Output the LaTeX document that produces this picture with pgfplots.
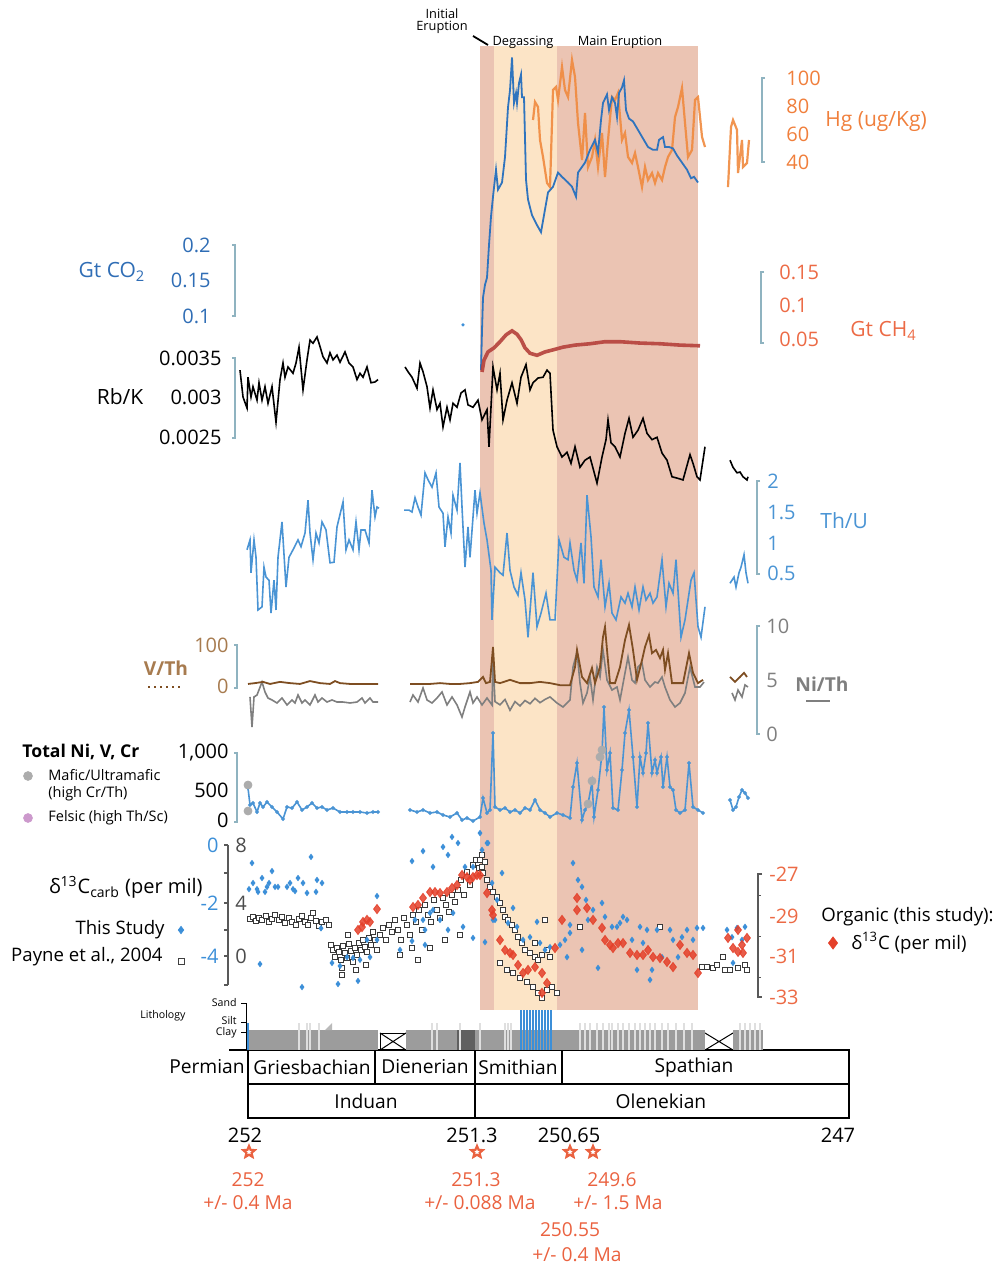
\documentclass[border=0pt]{standalone}
\usepackage{pgfplots}
\pgfplotsset{compat=1.18}
\usepackage{fontspec}
\setmainfont{Open Sans}
\usetikzlibrary{shapes.geometric}
\definecolor{pinkband}{HTML}{EBC4B3}
\definecolor{peach}{HTML}{FCE4C6}
\definecolor{hgc}{HTML}{F08A3E}
\definecolor{co2c}{HTML}{2F74BE}
\definecolor{ch4c}{HTML}{B5413B}
\definecolor{thuc}{HTML}{4A94D4}
\definecolor{vthc}{HTML}{7E4E22}
\definecolor{nithc}{HTML}{7F7F7F}
\definecolor{brk}{HTML}{8FB3C0}
\definecolor{ager}{HTML}{EA6240}
\definecolor{lblblue}{HTML}{2F6DB5}
\definecolor{lblorg}{HTML}{F07F3C}
\definecolor{ch4lbl}{HTML}{EC6A45}
\definecolor{vthlbl}{HTML}{A77B4F}
\definecolor{lithg}{HTML}{9C9C9C}
\definecolor{diam}{HTML}{3C8FD8}
\definecolor{orgred}{HTML}{E4402A}
\newcommand{\fA}{\fontsize{9.6}{10.6}\selectfont}
\newcommand{\fE}{\fontsize{9.3}{10.3}\selectfont}
\newcommand{\fL}{\fontsize{10.5}{11.5}\selectfont}
\newcommand{\fT}{\fontsize{10}{11}\selectfont}
\newcommand{\fR}{\fontsize{9.6}{10.6}\selectfont}
\newcommand{\fB}{\fontsize{7.25}{8.3}\selectfont}
\newcommand{\fC}{\fontsize{6.4}{7}\selectfont}
\newcommand{\fD}{\fontsize{5.3}{6}\selectfont}
\tikzset{every node/.append style={inner sep=0pt}}
\pgfdeclareplotmark{ostar}{\node[star,star points=5,star point ratio=2.2,draw=ager,fill=white,line width=1.1pt,minimum size=6pt,inner sep=0pt]{};}
\pgfplotsset{panel/.style={scale only axis, width=501.5pt, xmin=0, xmax=1003, axis lines=none, clip=false, anchor=south west}}
\begin{document}
\begin{tikzpicture}
\useasboundingbox (0,0) rectangle (501.5pt,634.5pt);
% ---------------- layout axis (pixel grid) ----------------
\begin{axis}[at={(0,0)}, anchor=south west, scale only axis, width=501.5pt, height=634.5pt,
  xmin=0, xmax=1003, ymin=0, ymax=1269, y dir=reverse, axis lines=none, clip=false]
\fill[pinkband] (480,46) rectangle (698,1010);
\fill[peach] (494,46) rectangle (557,1010);
% phase labels
\node[font=\fC, align=center] at (442,21) {Initial\\[-1pt]Eruption};
\draw[line width=0.9pt] (473,36) -- (488,45);
\node[font=\fC] at (523,42) {Degassing};
\node[font=\fC] at (620,42) {Main Eruption};
% Hg scale
\draw[brk, line width=0.6pt] (765,78) -- (762,78) -- (762,162) -- (765,162);
\node[font=\fT, lblorg, anchor=west] at (786,78) {100};
\node[font=\fT, lblorg, anchor=west] at (786,106) {80};
\node[font=\fT, lblorg, anchor=west] at (786,134) {60};
\node[font=\fT, lblorg, anchor=west] at (786,162) {40};
\node[font=\fL, lblorg, anchor=west] at (825,122) {Hg (ug/Kg)};
% CO2 scale
\draw[brk, line width=0.6pt] (232,245) -- (235,245) -- (235,316) -- (232,316);
\node[font=\fT, lblblue, anchor=east] at (211,245) {0.2};
\node[font=\fT, lblblue, anchor=east] at (211,280) {0.15};
\node[font=\fT, lblblue, anchor=east] at (211,316) {0.1};
\node[font=\fL, lblblue] at (112,272) {Gt CO\textsubscript{2}};
% CH4 scale
\draw[brk, line width=0.6pt] (764,272) -- (761,272) -- (761,343) -- (764,343);
\node[font=\fT, ch4lbl, anchor=west] at (779,272) {0.15};
\node[font=\fT, ch4lbl, anchor=west] at (779,305) {0.1};
\node[font=\fT, ch4lbl, anchor=west] at (779,339) {0.05};
\node[font=\fL, ch4lbl, anchor=west] at (850,331) {Gt CH\textsubscript{4}};
% Rb/K scale
\draw[brk, line width=0.6pt] (232,358) -- (235,358) -- (235,438) -- (232,438);
\node[font=\fT, anchor=east] at (222,358) {0.0035};
\node[font=\fT, anchor=east] at (222,397) {0.003};
\node[font=\fT, anchor=east] at (222,437) {0.0025};
\node[font=\fL] at (120,397) {Rb/K};
% Th/U scale
\draw[brk, line width=0.6pt] (760,481) -- (757,481) -- (757,574) -- (760,574);
\node[font=\fT, thuc, anchor=west] at (767,481) {2};
\node[font=\fT, thuc, anchor=west] at (767,512) {1.5};
\node[font=\fT, thuc, anchor=west] at (767,543) {1};
\node[font=\fT, thuc, anchor=west] at (767,573) {0.5};
\node[font=\fL, thuc, anchor=west] at (820,521) {Th/U};
% V/Th scale
\draw[brk, line width=0.6pt] (234,645) -- (237,645) -- (237,688) -- (234,688);
\node[font=\fT, vthlbl, anchor=east] at (229,645) {100};
\node[font=\fT, vthlbl, anchor=east] at (229,686) {0};
\node[font=\fA\bfseries, vthlbl] at (166,668) {V/Th};
\draw[vthc, dotted, line width=1pt] (148,687) -- (182,687);
% Ni/Th scale
\draw[brk, line width=0.6pt] (760,626) -- (757,626) -- (757,734) -- (760,734);
\node[font=\fT, nithc, anchor=west] at (766,626) {10};
\node[font=\fT, nithc, anchor=west] at (766,680) {5};
\node[font=\fT, nithc, anchor=west] at (766,734) {0};
\node[font=\fA\bfseries, nithc, anchor=west] at (795,684) {Ni/Th};
\addplot[nithc, line width=1.3pt] coordinates {(806,701) (830,701)};
% Total Ni V Cr
\draw[brk, line width=0.6pt] (234,753) -- (237,753) -- (237,822) -- (234,822);
\node[font=\fT, anchor=east] at (229,753) {1,000};
\node[font=\fT, anchor=east] at (229,790) {500};
\node[font=\fT, anchor=east] at (229,820) {0};
\node[font=\fontsize{8.8}{9.8}\selectfont\bfseries, anchor=west] at (22,752) {Total Ni, V, Cr};
\addplot[only marks, mark=*, mark size=2.2pt, color=gray!65] coordinates {(28,776)};
\node[font=\fB, anchor=west, align=left] at (48,785) {Mafic/Ultramafic\\(high Cr/Th)};
\addplot[only marks, mark=*, mark size=2.2pt, color=violet!40] coordinates {(28,818)};
\node[font=\fB, anchor=west] at (48,818) {Felsic (high Th/Sc)};
% d13C carb axis
\draw[gray!70!black, line width=0.7pt] (228,845) -- (228,985);
\draw[gray!70!black, line width=0.6pt] (224,845) -- (228,845) (224,873) -- (228,873) (224,903) -- (228,903) (224,930) -- (228,930) (224,956) -- (228,956) (224,985) -- (228,985);
\node[font=\fT, diam, anchor=east] at (219,845) {0};
\node[font=\fT, diam, anchor=east] at (219,903) {-2};
\node[font=\fT, diam, anchor=east] at (219,956) {-4};
\node[font=\fT, gray!60!black, anchor=west] at (235,845) {8};
\node[font=\fT, gray!60!black, anchor=west] at (235,903) {4};
\node[font=\fT, gray!60!black, anchor=west] at (235,956) {0};
\node[font=\fT, anchor=east] at (203,887) {δ\textsuperscript{13}C\textsubscript{carb} (per mil)};
\node[font=\fE, anchor=east] at (165,930) {This Study};
\addplot[only marks, mark=diamond*, mark size=1.8pt, color=diam] coordinates {(181,930)};
\node[font=\fE, anchor=east] at (163,957) {Payne et al., 2004};
\addplot[only marks, mark=square, mark size=1.5pt, color=gray!50!black] coordinates {(181,961)};
% organic scale
\draw[gray!70!black, line width=0.6pt] (762,874) -- (758,874) -- (758,997) -- (762,997);
\draw[gray!70!black, line width=0.5pt] (758,895) -- (761,895) (758,936) -- (761,936) (758,977) -- (761,977);
\node[font=\fT, ch4lbl] at (784,874) {-27};
\node[font=\fT, ch4lbl] at (784,916) {-29};
\node[font=\fT, ch4lbl] at (784,956) {-31};
\node[font=\fT, ch4lbl] at (784,997) {-33};
\node[font=\fE, anchor=west] at (821,917) {Organic (this study):};
\addplot[only marks, mark=diamond*, mark size=3pt, color=orgred] coordinates {(833,943)};
\node[font=\fE, anchor=west] at (851,943) {δ\textsuperscript{13}C (per mil)};
% lithology labels & axis
\node[font=\fD] at (163,1016) {Lithology};
\draw[black, line width=0.5pt] (246,1003) -- (246,1050);
\draw[line width=0.5pt] (241,1003) -- (246,1003) (241,1022) -- (246,1022) (241,1032) -- (246,1032);
\node[font=\fD, anchor=east] at (237,1003) {Sand};
\node[font=\fD, anchor=east] at (237,1021) {Silt};
\node[font=\fD, anchor=east] at (237,1033) {Clay};
\draw[line width=0.5pt] (380,1033) rectangle (406,1050); \draw[line width=0.5pt] (380,1033) -- (406,1050) (380,1050) -- (406,1033);
\draw[line width=0.5pt] (705,1033) -- (733,1050) (705,1050) -- (733,1033);
% stage table
\draw[line width=0.9pt] (229,1050) -- (850,1050);
\draw[line width=0.7pt] (248,1050) -- (248,1118) -- (849,1118) -- (849,1050);
\draw[line width=0.7pt] (248,1084) -- (849,1084);
\draw[line width=0.7pt] (375,1050) -- (375,1084) (475,1050) -- (475,1118) (562,1050) -- (562,1084);
\node[font=\fA] at (207,1067) {Permian};
\node[font=\fA] at (312,1067) {Griesbachian};
\node[font=\fA] at (425,1067) {Dienerian};
\node[font=\fA] at (518,1067) {Smithian};
\node[font=\fA] at (694,1067) {Spathian};
\node[font=\fA] at (366,1101) {Induan};
\node[font=\fA] at (661,1101) {Olenekian};
\node[font=\fT] at (245,1135) {252};
\node[font=\fT] at (472,1135) {251.3};
\node[font=\fT] at (569,1135) {250.65};
\node[font=\fT] at (838,1135) {247};
\addplot[only marks, mark=ostar] coordinates {(249,1152) (477,1152) (570,1152) (593,1152)};
\node[font=\fR, ager] at (248,1180) {252};
\node[font=\fR, ager] at (248,1203) {+/- 0.4 Ma};
\node[font=\fR, ager] at (476,1180) {251.3};
\node[font=\fR, ager] at (480,1203) {+/- 0.088 Ma};
\node[font=\fR, ager] at (612,1180) {249.6};
\node[font=\fR, ager] at (618,1203) {+/- 1.5 Ma};
\node[font=\fR, ager] at (570,1230) {250.55};
\node[font=\fR, ager] at (577,1255) {+/- 0.4 Ma};
\end{axis}
% ---------------- Hg ----------------
\begin{axis}[panel, at={(0,534.5pt)}, height=80pt, ymin=12.857, ymax=127.143]
\addplot[hgc, line width=1.1pt, opacity=0.9] coordinates {(533,70.0)(535,82.9)(538,79.3)(540,55.7)(543,43.6)(547,25.0)(550,22.1)(553,91.4)(556,93.6)(558,84.3)(562,107.9)(565,91.4)(568,86.4)(572,112.9)(575,100.7)(578,67.9)(582,41.4)(585,75.0)(588,36.4)(592,43.6)(595,55.7)(598,36.4)(602,60.7)(605,29.3)(608,55.7)(612,86.4)(615,84.3)(618,89.3)(622,55.7)(625,60.7)(628,43.6)(632,39.3)(635,46.4)(638,36.4)(642,22.1)(645,36.4)(648,27.1)(652,32.1)(655,25.0)(658,32.1)(662,27.1)(665,36.4)(668,43.6)(672,48.6)(675,72.1)(678,79.3)(682,92.9)(685,67.9)(688,43.6)(692,48.6)(695,84.3)(698,86.4)(702,57.9)(705,50.7)};
\addplot[hgc, line width=1.1pt, opacity=0.9] coordinates {(728,22.1)(731,65.0)(733,70.0)(737,62.9)(738,32.1)(742,55.7)(743,36.4)(747,39.3)(749,55.7)};
\end{axis}
% ---------------- CO2 ----------------
\begin{axis}[panel, at={(0,444.5pt)}, height=170pt, ymin=0.05493, ymax=0.294366]
\addplot[co2c, line width=0.9pt] coordinates {(481,0.062)(482,0.090)(483,0.113)(485,0.122)(487,0.127)(489,0.150)(491,0.170)(493,0.184)(496,0.203)(498,0.189)(502,0.194)(505,0.212)(508,0.247)(510,0.259)(512,0.282)(514,0.250)(516,0.257)(517,0.250)(519,0.264)(521,0.270)(522,0.254)(524,0.254)(526,0.196)(528,0.182)(532,0.171)(537,0.164)(541,0.159)(544,0.171)(548,0.187)(553,0.191)(558,0.201)(562,0.198)(565,0.196)(568,0.194)(572,0.191)(576,0.184)(578,0.201)(582,0.205)(585,0.208)(590,0.217)(595,0.224)(598,0.215)(601,0.238)(603,0.250)(607,0.256)(609,0.245)(612,0.254)(615,0.250)(617,0.240)(619,0.257)(622,0.261)(624,0.266)(626,0.245)(629,0.239)(633,0.237)(638,0.231)(643,0.225)(648,0.219)(653,0.217)(657,0.217)(659,0.224)(663,0.226)(665,0.219)(669,0.219)(673,0.218)(677,0.213)(682,0.208)(687,0.203)(691,0.197)(694,0.198)(698,0.194)};
\addplot[only marks, mark=*, mark size=0.6pt, color=diam] coordinates {(463,0.0937)};
\end{axis}
% ---------------- CH4 ----------------
\begin{axis}[panel, at={(0,444.5pt)}, height=40pt, ymin=-0.010294, ymax=0.107353]
\addplot[ch4c, line width=1.8pt, opacity=0.9] coordinates {(482,0.0015)(484,0.019)(488,0.031)(494,0.037)(500,0.046)(506,0.056)(512,0.062)(517,0.057)(521,0.049)(525,0.037)(530,0.029)(537,0.026)(545,0.031)(553,0.034)(563,0.038)(575,0.041)(590,0.043)(605,0.046)(620,0.046)(640,0.044)(660,0.043)(680,0.041)(700,0.040)};
\end{axis}
% ---------------- Rb/K ----------------
\begin{axis}[panel, at={(0,389.5pt)}, height=80pt, ymin=0.0018228, ymax=0.0038481]
\addplot[black, line width=0.8pt] coordinates {(240,0.00334)(243,0.00300)(247,0.00286)(248,0.00325)(251,0.00300)(253,0.00313)(257,0.00296)(259,0.00318)(262,0.00296)(265,0.00313)(268,0.00292)(272,0.00313)(276,0.00268)(280,0.00322)(283,0.00343)(285,0.00325)(288,0.00338)(293,0.00330)(296,0.00343)(299,0.00363)(303,0.00309)(307,0.00347)(310,0.00372)(313,0.00368)(317,0.00376)(319,0.00368)(323,0.00351)(327,0.00343)(330,0.00356)(333,0.00347)(337,0.00353)(340,0.00344)(345,0.00357)(349,0.00343)(353,0.00338)(357,0.00322)(360,0.00330)(363,0.00325)(367,0.00338)(371,0.00318)(375,0.00319)(378,0.00322)};
\addplot[black, line width=0.8pt] coordinates {(405,0.00338)(408,0.00332)(412,0.00325)(417,0.00311)(420,0.00343)(423,0.00332)(427,0.00313)(430,0.00286)(433,0.00309)(437,0.00284)(440,0.00292)(443,0.00262)(447,0.00287)(450,0.00271)(453,0.00292)(457,0.00287)(461,0.00305)(465,0.00309)(468,0.00290)(473,0.00287)(478,0.00296)(482,0.00271)(487,0.00284)(489,0.00237)(493,0.00338)(497,0.00309)(500,0.00330)(503,0.00271)(507,0.00296)(512,0.00318)(517,0.00292)(521,0.00325)(526,0.00341)(530,0.00309)(533,0.00318)(538,0.00324)(543,0.00325)(547,0.00334)(550,0.00330)(553,0.00258)(557,0.00237)(562,0.00224)(567,0.00230)(571,0.00216)(575,0.00237)(580,0.00211)(585,0.00220)(590,0.00224)(597,0.00191)(602,0.00224)(606,0.00246)(608,0.00271)(611,0.00242)(615,0.00237)(620,0.00224)(625,0.00254)(629,0.00273)(633,0.00249)(638,0.00258)(643,0.00273)(647,0.00254)(652,0.00246)(657,0.00249)(662,0.00229)(667,0.00220)(672,0.00199)(678,0.00197)(683,0.00195)(690,0.00227)(693,0.00216)(697,0.00199)(700,0.00195)(705,0.00237)};
\addplot[black, line width=0.8pt] coordinates {(730,0.00220)(733,0.00211)(737,0.00204)(740,0.00205)(743,0.00199)(747,0.00195)(748,0.00199)};
\end{axis}
% ---------------- Th/U ----------------
\begin{axis}[panel, at={(0,309.5pt)}, height=100pt, ymin=-0.725806, ymax=2.5]
\addplot[thuc, line width=0.8pt] coordinates {(247,0.89)(250,1.05)(251,0.52)(254,1.05)(256,0.77)(258,-0.08)(262,-0.03)(264,0.61)(266,0.45)(269,0.40)(271,-0.13)(274,0.40)(276,-0.08)(278,0.77)(282,1.34)(286,0.29)(289,0.77)(294,0.92)(298,1.05)(301,0.94)(305,1.16)(308,1.69)(310,1.16)(313,0.73)(316,1.16)(319,1.00)(322,1.34)(326,1.21)(330,0.68)(334,0.69)(337,1.26)(343,1.66)(346,0.89)(349,1.05)(353,0.89)(356,1.34)(359,0.89)(361,1.21)(365,1.21)(369,1.00)(372,1.85)(375,1.42)(377,1.58)(379,1.56)};
\addplot[thuc, line width=0.8pt] coordinates {(404,1.53)(409,1.53)(412,1.50)(415,1.73)(418,1.58)(421,1.45)(425,2.13)(428,2.02)(432,1.90)(436,2.13)(439,1.58)(443,1.48)(445,0.94)(448,1.42)(451,1.16)(453,1.77)(457,1.53)(460,2.29)(462,1.58)(465,0.61)(468,1.26)(470,0.77)(475,1.85)(477,1.48)(480,1.81)(484,1.32)(487,1.05)(491,0.56)(492,-0.24)(495,0.61)(500,0.52)(503,0.48)(507,1.16)(510,0.56)(514,0.29)(518,0.16)(521,0.52)(525,0.08)(528,-0.52)(533,0.52)(537,-0.35)(541,-0.13)(546,0.19)(550,-0.24)(555,-0.24)(559,1.05)(564,0.77)(568,0.73)(570,1.00)(574,0.56)(577,0.40)(581,1.00)(584,0.35)(587,1.77)(591,1.10)(594,0.29)(598,0.13)(601,0.73)(605,-0.03)(609,0.35)(612,-0.13)(616,-0.24)(621,0.13)(625,0.03)(628,0.19)(632,-0.03)(635,0.29)(639,-0.08)(643,0.29)(646,0.08)(650,0.19)(653,0.03)(657,0.13)(662,0.73)(666,-0.03)(669,0.35)(673,0.19)(676,0.73)(681,-0.52)(685,-0.24)(691,0.40)(694,0.52)(698,-0.35)(701,-0.52)(705,-0.03)};
\addplot[thuc, line width=0.8pt] coordinates {(730,0.35)(734,0.45)(736,0.29)(739,0.52)(741,0.61)(744,0.81)(746,0.52)(748,0.35)};
\end{axis}
% ---------------- Ni/Th ----------------
\begin{axis}[panel, at={(0,264.5pt)}, height=60pt, ymin=-0.555556, ymax=10.555556]
\addplot[nithc, line width=0.8pt] coordinates {(250,3.43)(252,0.65)(254,3.43)(257,3.61)(262,4.81)(265,3.89)(268,3.33)(272,3.15)(277,2.87)(282,3.33)(287,2.69)(292,3.15)(295,2.87)(298,3.61)(302,2.87)(305,3.15)(310,2.69)(315,3.61)(318,2.96)(322,3.33)(327,2.96)(332,3.15)(337,2.96)(343,2.96)(350,2.87)(357,2.96)(362,3.33)(365,2.87)(370,3.33)(373,2.96)(378,2.96)};
\addplot[nithc, line width=0.8pt] coordinates {(410,2.96)(413,3.61)(418,2.96)(423,4.26)(427,3.15)(432,2.87)(437,3.33)(442,3.89)(447,2.69)(452,3.43)(457,2.69)(462,1.57)(465,2.50)(470,3.89)(473,2.87)(477,3.43)(482,2.69)(487,3.33)(492,2.69)(493,7.0)(495,3.0)(500,2.7)(505,3.2)(510,2.2)(515,3.0)(520,2.6)(525,3.1)(530,2.8)(535,3.3)(540,2.9)(545,3.2)(550,3.43)(557,2.87)(563,2.50)(570,3.15)(573,6.20)(577,7.59)(580,4.72)(583,2.87)(587,3.80)(590,5.28)(593,3.15)(597,6.20)(600,5.28)(603,7.78)(607,5.00)(612,4.07)(617,4.35)(620,3.15)(625,5.65)(628,7.13)(632,5.00)(635,4.72)(638,6.20)(642,6.57)(645,5.00)(650,4.35)(655,4.81)(658,4.72)(662,5.28)(665,4.35)(670,3.15)(675,2.50)(680,2.87)(685,3.80)(690,6.20)(695,4.35)(700,4.35)(704,4.81)};
\addplot[nithc, line width=0.8pt] coordinates {(732,3.80)(735,3.15)(738,4.07)(742,3.43)(745,4.54)(748,4.35)};
\end{axis}
% ---------------- V/Th ----------------
\begin{axis}[panel, at={(0,264.5pt)}, height=60pt, ymin=-131.707, ymax=160.976]
\addplot[vthc, line width=0.9pt] coordinates {(248,5)(255,7)(263,10)(270,5)(280,10)(290,7)(300,5)(310,12)(320,7)(330,5)(335,12)(340,7)(350,5)(360,5)(370,5)(378,5)};
\addplot[vthc, line width=0.9pt] coordinates {(410,5)(420,5)(430,5)(440,7)(450,5)(460,5)(470,7)(478,10)(483,22)(486,7)(490,10)(493,95)(495,10)(500,7)(510,15)(520,7)(530,7)(540,10)(550,7)(560,2)(570,2)(575,46)(577,88)(582,22)(587,7)(592,44)(595,7)(600,46)(603,120)(605,144)(607,88)(610,7)(615,7)(620,46)(625,112)(629,149)(633,88)(637,15)(642,63)(645,95)(649,124)(652,80)(656,88)(660,68)(663,88)(665,39)(668,80)(672,7)(677,7)(683,7)(689,80)(693,32)(698,7)(703,15)};
\addplot[vthc, line width=0.9pt] coordinates {(730,22)(735,10)(740,22)(744,32)(747,22)};
\end{axis}
% ---------------- Total Ni V Cr ----------------
\begin{axis}[panel, at={(0,219.5pt)}, height=65pt, ymin=-132.353, ymax=1779.41]
\addplot[thuc, line width=0.8pt, mark=*, mark size=0.5pt] coordinates {(248,485)(250,235)(253,265)(257,132)(260,265)(263,206)(267,279)(272,206)(277,132)(283,29)(287,206)(292,191)(297,279)(302,162)(307,206)(312,265)(317,191)(322,206)(327,162)(333,191)(340,132)(347,132)(353,132)(360,132)(367,118)(373,132)(378,132)};
\addplot[thuc, line width=0.8pt, mark=*, mark size=0.5pt] coordinates {(410,162)(417,132)(423,162)(430,118)(437,132)(443,88)(450,59)(457,118)(462,15)(467,44)(473,0)(480,59)(483,338)(487,118)(490,162)(493,1294)(495,206)(500,162)(505,191)(510,132)(515,162)(520,118)(525,191)(530,162)(535,309)(540,162)(545,118)(550,59)(557,118)(563,88)(570,44)(573,500)(577,853)(582,15)(585,162)(588,250)(592,573)(594,59)(598,456)(602,1000)(604,1676)(607,750)(610,1000)(613,191)(618,162)(622,750)(625,1294)(629,1632)(633,941)(637,206)(640,941)(643,706)(646,1000)(648,1441)(652,706)(655,897)(657,706)(661,941)(663,500)(667,941)(670,500)(673,456)(676,162)(680,118)(685,162)(689,853)(693,206)(698,162)(703,118)};
\addplot[thuc, line width=0.8pt, mark=*, mark size=0.5pt] coordinates {(730,309)(733,162)(736,206)(739,353)(742,456)(745,412)(748,338)};
\addplot[only marks, mark=*, mark size=2pt, color=gray!65] coordinates {(248,529)(248,147)(588,250)(592,588)(600,941)(602,1044)};
\end{axis}
% ---------------- Payne squares ----------------
\begin{axis}[panel, at={(0,134.5pt)}, height=90pt, ymin=-3.171171, ymax=9.801802]
\addplot[only marks, mark=square*, mark size=1.3pt, mark options={draw=gray!45!black, fill=white, line width=0.4pt}] coordinates {
(250,2.67)(253,2.81)(256,2.52)(259,2.74)(262,2.59)(266,2.88)(269,2.45)(272,2.67)(275,2.95)(279,2.59)(282,2.81)(285,2.38)(289,2.74)(292,2.45)(296,2.23)(299,2.67)(302,2.88)(305,2.45)(308,2.23)(311,2.74)(313,3.10)(316,2.52)(319,2.16)(322,2.45)(326,2.59)(329,2.23)
(331,0.79)(333,0.43)(335,-0.07)(337,0.58)(339,0.29)(341,-0.29)(343,0.72)(345,0.22)(347,-0.14)(349,0.86)(351,0.36)(342,-1.37)(342,-0.86)(353,-0.43)(355,0.58)(357,0.07)(359,0.94)(361,0.43)(363,1.15)(365,0.65)(367,0.29)(369,1.30)(371,0.79)(373,1.73)(375,1.15)(377,0.43)(366,-0.65)(356,-1.01)(348,1.51)
(380,1.51)(383,2.02)(386,1.15)(389,2.23)(392,1.73)(395,2.59)(398,1.87)(401,1.15)(404,2.74)(407,2.23)(410,1.51)(413,2.95)(416,2.45)(419,3.32)(422,1.87)(425,3.68)(428,2.95)(431,2.45)(434,4.04)(437,3.32)(440,2.74)(443,4.18)(446,3.68)(449,3.17)(452,4.40)(455,3.89)(458,4.76)(461,5.48)(464,4.40)(467,6.05)(470,5.12)(473,6.56)(476,6.92)(479,6.34)(482,7.28)(485,6.77)(412,0.58)(430,0.58)(445,1.15)(460,1.51)(418,-0.29)(400,0.07)
(480,6.92)(482,6.41)(483,5.98)(487,5.48)(490,4.97)(493,4.61)(497,4.25)(500,3.82)(503,3.32)(505,2.81)(508,2.59)(512,2.23)(515,1.87)(518,1.37)(522,0.94)(525,0.43)(530,0.22)(535,-0.07)(538,-0.29)(542,0.07)(547,0.43)(550,-0.07)(500,-0.50)(507,-1.01)(513,-1.23)(520,-1.59)(527,-1.87)(533,-2.23)(538,-2.67)(542,-3.03)(547,-2.45)(552,-2.23)(557,-2.67)(545,2.59)(535,0.94)
(580,2.09)(660,2.09)(702,-0.79)(707,-0.79)(713,-0.86)(717,-0.65)(723,-0.07)(725,-1.01)(730,-1.01)(738,-0.86)(745,-0.65)(747,-1.01)};
\end{axis}
% ---------------- This study (blue diamonds) ----------------
\begin{axis}[panel, at={(0,134.5pt)}, height=90pt, ymin=-5.585586, ymax=0.900901]
\addplot[only marks, mark=diamond*, mark size=1.3pt, color=diam] coordinates {
(252,-0.65)(249,-1.59)(253,-1.37)(257,-1.59)(258,-1.69)(262,-1.19)(265,-1.69)(267,-1.51)(269,-1.37)(272,-0.94)(275,-1.51)(278,-1.51)(287,-1.51)(290,-1.37)(293,-1.59)(295,-1.66)(298,-1.19)(303,-1.37)(307,-1.73)(311,-0.43)(316,-1.69)(317,-1.26)(322,-1.37)(260,-4.29)(321,-3.00)(302,-5.12)(332,-4.25)(340,-4.36)(338,-5.01)(347,-4.04)(353,-4.07)(358,-4.90)(360,-4.14)(367,-3.42)(377,-1.84)(377,-3.42)(370,-4.04)
(412,-0.58)(423,-0.22)(433,-0.79)(443,-0.07)(448,-0.36)(452,0.29)(458,0.07)(465,-0.79)(473,-0.79)(480,0.43)(488,0.07)(415,-2.70)(425,-3.06)(433,-2.34)(440,-2.70)(448,-3.06)(453,-2.45)(463,-2.95)(473,-3.35)(485,-3.50)(425,-3.60)(412,-3.46)(400,-3.78)(423,-2.70)(430,-2.45)(493,-2.70)
(487,0.07)(482,-0.18)(492,-1.37)(497,-1.98)(502,-1.01)(495,-2.70)(513,-2.27)(508,-2.81)(517,-2.95)(523,-3.42)(530,-3.32)(537,-2.77)(540,-3.53)(545,-3.78)(550,-3.68)(560,-3.60)(565,-3.42)(570,-3.17)(573,-0.65)(578,-1.26)(582,-1.51)(586,-1.98)(588,-2.70)(593,-2.34)(602,-2.09)(605,-2.59)(612,-2.95)(617,-2.95)(620,-2.81)(623,-2.59)(627,-2.70)(632,-3.42)(637,-4.50)(640,-2.95)(643,-3.53)(647,-3.06)(650,-4.86)(652,-4.50)(657,-3.06)(662,-4.04)(670,-3.06)(673,-3.42)(678,-4.04)(682,-3.32)(687,-3.06)(693,-3.42)(697,-2.99)(703,-2.99)(582,-3.78)(567,-4.04)(598,-4.43)(570,-2.88)(727,-3.06)(732,-3.32)(737,-2.99)(742,-3.42)(745,-2.95)(733,-4.25)};
\end{axis}
% ---------------- Organic (red diamonds) ----------------
\begin{axis}[panel, at={(0,134.5pt)}, height=90pt, ymin=-33.146341, ymax=-24.365854]
\addplot[only marks, mark=diamond*, mark size=2.3pt, color=orgred, opacity=0.85] coordinates {
(362,-29.59)(363,-29.34)(367,-29.24)(370,-29.34)(377,-28.71)(358,-29.73)(413,-28.61)(418,-28.51)(423,-28.17)(430,-27.88)(435,-27.88)(440,-27.93)(447,-27.88)(452,-27.68)(457,-27.54)(462,-27.05)(467,-27.15)(470,-27.29)(473,-27.15)(477,-27.05)(480,-27.05)(487,-27.93)(492,-28.76)(493,-29.00)(500,-30.22)(505,-30.71)(510,-30.85)(513,-30.95)(518,-31.44)(523,-31.83)(528,-31.68)(535,-31.54)(542,-31.83)(542,-32.80)(547,-32.32)(555,-30.61)(562,-29.24)(577,-28.17)(577,-28.76)(587,-28.66)(593,-29.24)(602,-29.63)(605,-30.22)(610,-30.46)(613,-30.61)(618,-30.37)(623,-30.37)(630,-30.85)(637,-30.95)(643,-30.95)(648,-30.71)(653,-31.05)(660,-31.10)(667,-31.29)(673,-31.54)(680,-30.46)(687,-30.85)(693,-30.95)(698,-31.83)(728,-30.12)(733,-30.61)(738,-29.73)(742,-30.46)(747,-30.12)(743,-30.85)(738,-30.80)};
\end{axis}
% ---------------- Lithology ----------------
\begin{axis}[panel, at={(0,109.5pt)}, height=25pt, ymin=0, ymax=2.77778]
\addplot[fill=lithg, draw=none] coordinates {(248,0)(248,1.1)(378,1.1)(378,0)};
\addplot[fill=lithg, draw=none] coordinates {(406,0)(406,1.1)(705,1.1)(705,0)};
\addplot[fill=gray!75!black, draw=none] coordinates {(457,0)(457,1.1)(475,1.1)(475,0)};
\addplot[fill=lithg, draw=none] coordinates {(733,0)(733,1.1)(763,1.1)(763,0)};
\addplot[fill=lithg!70, draw=none] coordinates {(325,1.1)(332,1.5)(332,1.1)};
\addplot[ycomb, no marks, color=gray!25, line width=1.1pt] coordinates {(299,1.5)(307,1.5)(310,1.5)(319,1.5)(432,1.5)(437,1.5)(460,1.5)(480,1.5)(505,1.5)(508,1.5)(511,1.5)(580,1.5)(585,1.5)(590,1.5)(597,1.5)(603,1.5)(609,1.5)(612,1.5)(618,1.5)(623,1.5)(629,1.5)(635,1.5)(640,1.5)(645,1.5)(650,1.5)(655,1.5)(662,1.5)(668,1.5)(676,1.5)(684,1.5)(692,1.5)(740,1.5)(745,1.5)(750,1.5)(755,1.5)(760,1.5)};
\addplot[ycomb, no marks, color=diam, line width=0.8pt] coordinates {(521,2.2)(524,2.2)(527,2.2)(530,2.2)(533,2.2)(536,2.2)(539,2.2)(542,2.2)(545,2.2)(548,2.2)(551,2.2)};
\addplot[ycomb, no marks, color=diam, line width=0.8pt] coordinates {(248,1.5)};
\end{axis}
\end{tikzpicture}
\end{document}
